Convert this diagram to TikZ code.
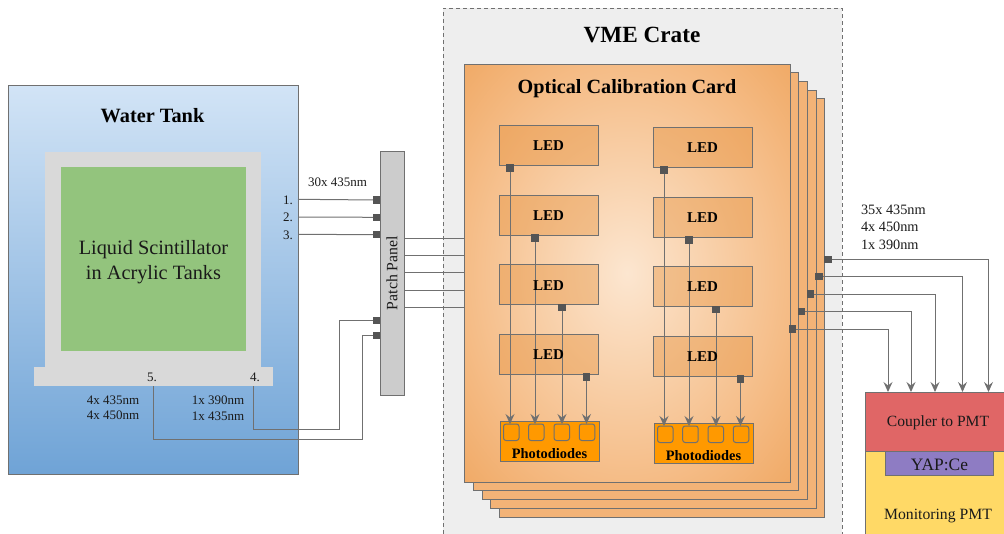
\documentclass[tikz,border=0pt]{standalone}
\usepackage{fontspec}
\setmainfont{Liberation Serif}
\usetikzlibrary{arrows.meta}
\definecolor{ln}{HTML}{707070}
\definecolor{sqc}{HTML}{555555}
\definecolor{txt}{HTML}{1A1A1A}
\definecolor{cardc}{HTML}{F3B377}
\definecolor{cardmid}{HTML}{FCE6D0}
\definecolor{cardn}{HTML}{F5BC86}
\definecolor{cardout}{HTML}{F0A965}
\definecolor{ledc}{HTML}{E38A30}
\definecolor{pdc}{HTML}{FF9900}
\definecolor{tanktop}{HTML}{D2E4F6}
\definecolor{tankbot}{HTML}{6FA3D6}
\definecolor{inner}{HTML}{D9D9D9}
\definecolor{green1}{HTML}{93C47D}
\definecolor{cratec}{HTML}{EEEEEE}
\definecolor{panelc}{HTML}{CCCCCC}
\definecolor{couplerc}{HTML}{E06666}
\definecolor{yapc}{HTML}{8E7CC3}
\definecolor{pmtc}{HTML}{FFD966}
\pgfdeclareradialshading{cardrad}{\pgfpoint{0bp}{0bp}}{color(0bp)=(cardmid); color(25bp)=(cardn); color(36bp)=(cardout); color(50bp)=(cardout)}
\newcommand\fs[1]{\fontsize{#1}{#1}\selectfont}
\newcommand\fsl[2]{\fontsize{#1}{#2}\selectfont}
% style, name, x1, y1, x2, y2, text
\newcommand\rbox[7]{\node[rb,#1,minimum width={(#5-#3)*1pt},minimum height={(#6-#4)*1pt}] (#2) at ({(#3+#5)/2},{(#4+#6)/2}) {#7};}
\tikzset{
 rb/.style={inner sep=0pt,outer sep=0pt,rectangle,align=center,text=txt},
 edged/.style={draw=ln,line width=1pt},
 cardbox/.style={edged,fill=cardc},
 ledbox/.style={draw=ln,line width=1pt,fill=ledc,fill opacity=.36,text opacity=1,draw opacity=1,text=black},
 ledtxt/.style={inner sep=0pt,outer sep=0pt,text=black,font=\bfseries\fs{15}},
 pdbox/.style={edged,fill=pdc},
 cell/.style={draw=ln,line width=1pt,rounded corners=2.5pt,fill=pdc},
 sq/.style={rectangle,fill=sqc,inner sep=0pt,outer sep=0pt,minimum size=7.5pt},
 wire/.style={draw=ln,line width=1pt},
 arr/.style={wire,-{Stealth[length=10pt,width=9pt,inset=3.5pt]}},
 lab/.style={inner sep=0pt,outer sep=0pt,text=txt,align=center,font=\fs{13}},
 ttl/.style={inner sep=0pt,outer sep=0pt,text=black,font=\bfseries\fs{20.3}},
}
\begin{document}
\begin{tikzpicture}[x=1pt,y=-1pt]
\useasboundingbox (0,0) rectangle (1004,533);
\clip (0,0) rectangle (1004,533);
% water tank
\rbox{edged,top color=tanktop,bottom color=tankbot}{tank}{8}{85}{298}{474}{}
\rbox{fill=inner}{acrylic}{45}{152}{261}{368}{}
\rbox{fill=inner}{base}{34}{367}{273}{386}{}
\rbox{fill=green1}{ls}{61}{167}{246}{351}{}
\node[lab,font=\fsl{20.3}{24.5}] (lstext) at (153.5,262) {Liquid Scintillator\\in Acrylic Tanks};
\node[ttl] (tanktitle) at (152.5,116) {Water Tank};
\node[lab] (n1) at (288,200.5) {1.};
\node[lab] (n2) at (288,217.5) {2.};
\node[lab] (n3) at (288,235) {3.};
\node[lab] (n5) at (152,377.5) {5.};
\node[lab] (n4) at (255,377.5) {4.};
\node[lab] (w30) at (337.5,182.5) {30x 435nm};
\node[lab,font=\fsl{13}{15.5}] (w45) at (113,408) {4x 435nm\\4x 450nm};
\node[lab,font=\fsl{13}{15.5}] (w14) at (218,408) {1x 390nm\\1x 435nm};
% crate
\rbox{draw=ln,line width=1pt,dash pattern=on 4pt off 3pt,fill=cratec}{crate}{443}{8}{842}{550}{}
\node[ttl,font=\bfseries\fs{23.2}] (cratetitle) at (642,35) {VME Crate};
% cards
\rbox{cardbox}{card5}{499}{98}{824.5}{517}{}
\rbox{cardbox}{card4}{490.5}{90}{816}{508.5}{}
\rbox{cardbox}{card3}{482}{81}{807}{499.5}{}
\rbox{cardbox}{card2}{473}{72.5}{798}{490.5}{}
\rbox{edged,shading=cardrad}{card1}{464}{64}{790}{482}{}
\node[ttl,font=\bfseries\fs{20.2}] (cardtitle) at (627,88.5) {Optical Calibration Card};
% panel
\rbox{edged,fill=panelc}{panel}{380}{151}{404}{395}{}
\node[lab,rotate=90,font=\fs{15.8}] (paneltext) at (392,273) {Patch Panel};
% LEDs
\rbox{ledbox}{la}{499}{125}{598}{165}{}
\rbox{ledbox}{lb}{499}{195}{598}{235}{}
\rbox{ledbox}{lc}{499}{264.5}{598}{304.5}{}
\rbox{ledbox}{ld}{499}{334}{598}{374}{}
\rbox{ledbox}{ra}{653}{127}{752}{167}{}
\rbox{ledbox}{rb}{653}{197}{752}{237}{}
\rbox{ledbox}{rc}{653}{266}{752}{306}{}
\rbox{ledbox}{rd}{653}{336}{752}{376}{}
% photodiodes
\rbox{pdbox}{pl}{500}{421}{599}{461}{}
\rbox{pdbox}{pr}{654}{423}{753}{463}{}
\rbox{cell}{pl1}{503.5}{424}{519}{440.5}{}
\rbox{cell}{pl2}{528.5}{424}{544}{440.5}{}
\rbox{cell}{pl3}{554}{424}{569.5}{440.5}{}
\rbox{cell}{pl4}{579.3}{424}{594.8}{440.5}{}
\rbox{cell}{pr1}{657.5}{426}{673}{442.5}{}
\rbox{cell}{pr2}{682.7}{426}{698.2}{442.5}{}
\rbox{cell}{pr3}{708}{426}{723.5}{442.5}{}
\rbox{cell}{pr4}{733.3}{426}{748.8}{442.5}{}
\node[inner sep=0pt,font=\bfseries\fs{14.4},text=black] (ptl) at (549.5,454) {Photodiodes};
\node[inner sep=0pt,font=\bfseries\fs{14.4},text=black] (ptr) at (703.5,455.5) {Photodiodes};
% LED squares
\node[sq] (sa) at (510,168) {};
\node[sq] (sb) at (535,238) {};
\node[sq] (sc) at (562,307.5) {};
\node[sq] (sd) at (586.5,377) {};
\node[sq] (ta) at (664,170) {};
\node[sq] (tb) at (689,240) {};
\node[sq] (tc) at (716,309.5) {};
\node[sq] (td) at (740.5,379) {};
\draw[arr] (sa) -- (sa |- pl1.north);
\draw[arr] (sb) -- (sb |- pl2.north);
\draw[arr] (sc) -- (sc |- pl3.north);
\draw[arr] (sd) -- (sd |- pl4.north);
\draw[arr] (ta) -- (ta |- pr1.north);
\draw[arr] (tb) -- (tb |- pr2.north);
\draw[arr] (tc) -- (tc |- pr3.north);
\draw[arr] (td) -- (td |- pr4.north);
\foreach \n in {la,lb,lc,ld,ra,rb,rc,rd}{\node[ledtxt] at ([yshift=-.7pt]\n.center) {LED};}
% patch panel connections
\node[sq] (pa) at (376.5,200) {};
\node[sq] (pb) at (376.5,217.3) {};
\node[sq] (pc) at (376.5,234.7) {};
\node[sq] (pd) at (376.5,320.3) {};
\node[sq] (pe) at (376.5,335.7) {};
\coordinate (ea) at (298,199.3);
\coordinate (eb) at (298,217);
\coordinate (ec) at (298,234.3);
\draw[wire] (ea) -- (pa);
\draw[wire] (eb) -- (pb);
\draw[wire] (ec) -- (pc);
\coordinate (b4) at (253,386);
\coordinate (b5) at (153,386);
\draw[wire] (b4) -- (253,429) -- (339,429) -- (339,320.3) -- (pd);
\draw[wire] (b5) -- (153,439) -- (362,439) -- (362,335.7) -- (pe);
\foreach \y [count=\i] in {238,255.3,272.7,290.5,307.7}{
  \coordinate (o\i) at (404,\y);
  \draw[wire] (o\i) -- (o\i -| card1.west);
}
% output squares and wires
\rbox{edged,fill=pmtc}{pmt}{865}{451}{1012}{550}{}
\rbox{edged,fill=couplerc}{coupler}{865}{392}{1012}{451}{}
\rbox{edged,fill=yapc}{yap}{885}{451}{993}{475}{}
\node[lab,font=\fs{15.6}] (ct) at (938,423) {Coupler to PMT};
\node[lab,font=\fs{17.4}] (yt) at (939.5,465) {YAP:Ce};
\node[lab,font=\fs{15.7}] (mt) at (938,515.5) {Monitoring PMT};
\node[sq] (ca) at (827.8,259.3) {};
\node[sq] (cb) at (819,276.7) {};
\node[sq] (cc) at (810.3,294) {};
\node[sq] (cd) at (801.5,311.7) {};
\node[sq] (ce) at (792.7,329) {};
\coordinate (ia) at (988.5,392);
\coordinate (ib) at (962.5,392);
\coordinate (ic) at (935,392);
\coordinate (id) at (911,392);
\coordinate (ie) at (888,392);
\draw[arr] (ca) -| (ia);
\draw[arr] (cb) -| (ib);
\draw[arr] (cc) -| (ic);
\draw[arr] (cd) -| (id);
\draw[arr] (ce) -| (ie);
\node[lab,align=left,anchor=west,font=\fsl{14.3}{17.5}] (wout) at (861,227) {35x 435nm\\4x 450nm\\1x 390nm};
\end{tikzpicture}
\end{document}
